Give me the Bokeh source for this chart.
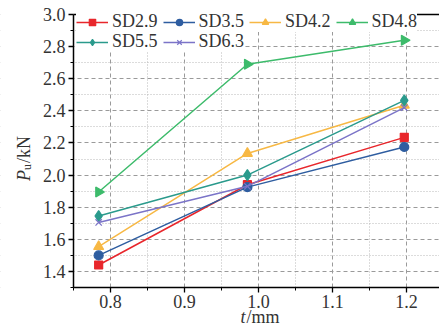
from math import pi
from bokeh.plotting import figure
from bokeh.models import (Range1d, FixedTicker, PrintfTickFormatter, Legend,
                          LegendItem, Label, LinearAxis, BoxAnnotation)
from bokeh.embed import file_html
from bokeh.resources import INLINE

# ---- data ----
t_mm = [0.784, 0.985, 1.197]
sd29 = [1.44, 1.94, 2.235]
sd35 = [1.50, 1.925, 2.175]
sd42 = [1.555, 2.135, 2.435]
sd48 = [1.895, 2.69, 2.84]
sd55 = [1.745, 2.00, 2.465]
sd63 = [1.705, 1.93, 2.42]
series_names = ["SD2.9", "SD3.5", "SD4.2", "SD4.8", "SD5.5", "SD6.3"]
x_ticks = [0.8, 0.9, 1.0, 1.1, 1.2]
x_minor = [0.75, 0.85, 0.95, 1.05, 1.15]
y_ticks = [1.4, 1.6, 1.8, 2.0, 2.2, 2.4, 2.6, 2.8, 3.0]
y_minor = [1.3, 1.5, 1.7, 1.9, 2.1, 2.3, 2.5, 2.7, 2.9]
x_lo, y_lo, y_hi = 0.75, 1.3, 3.0

FONT = "'Liberation Serif'"
TXT = "#333333"
colors = ["#E8262B", "#2E5DA0", "#F7B844", "#3DBB6B", "#2A9A8C", "#7B74C8"]
markers = ["square", "circle", "triangle", "triangle", "diamond", "x"]
sizes = [8, 9, 10, 10, 11, 9]
angles = [0, 0, 0, -pi / 2, 0, 0]
values = [sd29, sd35, sd42, sd48, sd55, sd63]

# the frame covers the whole canvas; axes are pinned at the data edges
X0, X1 = 0.65135, 1.2446
Y0, Y1 = 1.03846, 3.08718
p = figure(width=439, height=329,
           x_range=Range1d(X0, X1), y_range=Range1d(Y0, Y1),
           output_backend="svg", toolbar_location=None,
           min_border=0, min_border_left=0, min_border_right=0,
           min_border_top=0, min_border_bottom=0)
p.outline_line_color = None
p.background_fill_color = "white"
p.border_fill_color = "white"

p.xaxis.ticker = FixedTicker(ticks=x_ticks, minor_ticks=x_minor)
p.yaxis.ticker = FixedTicker(ticks=y_ticks, minor_ticks=y_minor)
p.xaxis.formatter = PrintfTickFormatter(format="%.1f")
p.yaxis.formatter = PrintfTickFormatter(format="%.1f")
p.xaxis.fixed_location = y_lo
p.xaxis.bounds = (x_lo, X1)
p.yaxis.fixed_location = x_lo
p.yaxis.bounds = (y_lo, y_hi)

for ax in (p.xaxis, p.yaxis):
    ax.axis_line_color = "black"
    ax.axis_line_width = 1.5
    ax.major_tick_line_color = "black"
    ax.minor_tick_line_color = "black"
    ax.major_tick_line_width = 1.3
    ax.minor_tick_line_width = 1.0
    ax.major_tick_in = 0
    ax.major_tick_out = 5
    ax.minor_tick_in = 0
    ax.minor_tick_out = 3
    ax.major_label_text_font = FONT
    ax.major_label_text_font_size = "18px"
    ax.major_label_text_color = TXT
p.xaxis.major_label_standoff = 3
p.yaxis.major_label_standoff = 3

# top frame line (no ticks, no labels)
top_axis = LinearAxis(fixed_location=y_hi, bounds=(x_lo, X1),
                      ticker=FixedTicker(ticks=[]),
                      axis_line_color="black", axis_line_width=1.5,
                      major_tick_in=0, major_tick_out=0,
                      minor_tick_in=0, minor_tick_out=0)
p.add_layout(top_axis, "above")

for g in (p.xgrid, p.ygrid):
    g.grid_line_color = "#9a9a9a"
    g.grid_line_dash = "4 3"
    g.grid_line_width = 1
    g.minor_grid_line_color = "#b8b8b8"
    g.minor_grid_line_dash = "1 2"
    g.minor_grid_line_width = 1

# white masks so the grid stays inside the data area
for kw in (dict(right=x_lo), dict(top=y_lo), dict(bottom=y_hi)):
    p.add_layout(BoxAnnotation(fill_color="white", fill_alpha=1, line_alpha=0,
                               level="underlay", **kw))

items = []
for name, ys, c, m, s, a in zip(series_names, values, colors, markers, sizes, angles):
    ln = p.line(t_mm, ys, line_color=c, line_width=1.5)
    sc = p.scatter(t_mm, ys, marker=m, size=s, angle=a,
                   fill_color=c, line_color=c, line_width=1.2)
    items.append(LegendItem(label=name, renderers=[ln, sc]))

def make_legend(its, loc):
    lg = Legend(items=its, orientation="horizontal", location=loc)
    lg.label_text_font = FONT
    lg.label_text_font_size = "18px"
    lg.label_text_color = TXT
    lg.glyph_width = 32
    lg.glyph_height = 16
    lg.label_height = 16
    lg.label_standoff = 4
    lg.spacing = 5
    lg.padding = 0
    lg.margin = 0
    lg.border_line_color = None
    lg.background_fill_color = "white"
    lg.background_fill_alpha = 1
    return lg

p.add_layout(make_legend(items[:4], (76, 297)))
p.add_layout(make_legend(items[4:], (76, 277)))

# axis titles built from text pieces
def lab(x, y, text, size="18px", style="normal", angle=0.0):
    return Label(x=x, y=y, text=text, angle=angle,
                 text_font=FONT, text_font_size=size, text_font_style=style,
                 text_align="left", text_baseline="alphabetic", text_color=TXT)

p.add_layout(lab(0.6831, 1.9625, "P", style="italic", angle=pi / 2))
p.add_layout(lab(0.6878, 2.031, "u", size="12px", angle=pi / 2))
p.add_layout(lab(0.6831, 2.075, "/kN", angle=pi / 2))
p.add_layout(lab(0.9757, 1.1194, "t", style="italic"))
p.add_layout(lab(0.9838, 1.1194, "/mm"))

open("out.html", "w").write(file_html(p, INLINE))
